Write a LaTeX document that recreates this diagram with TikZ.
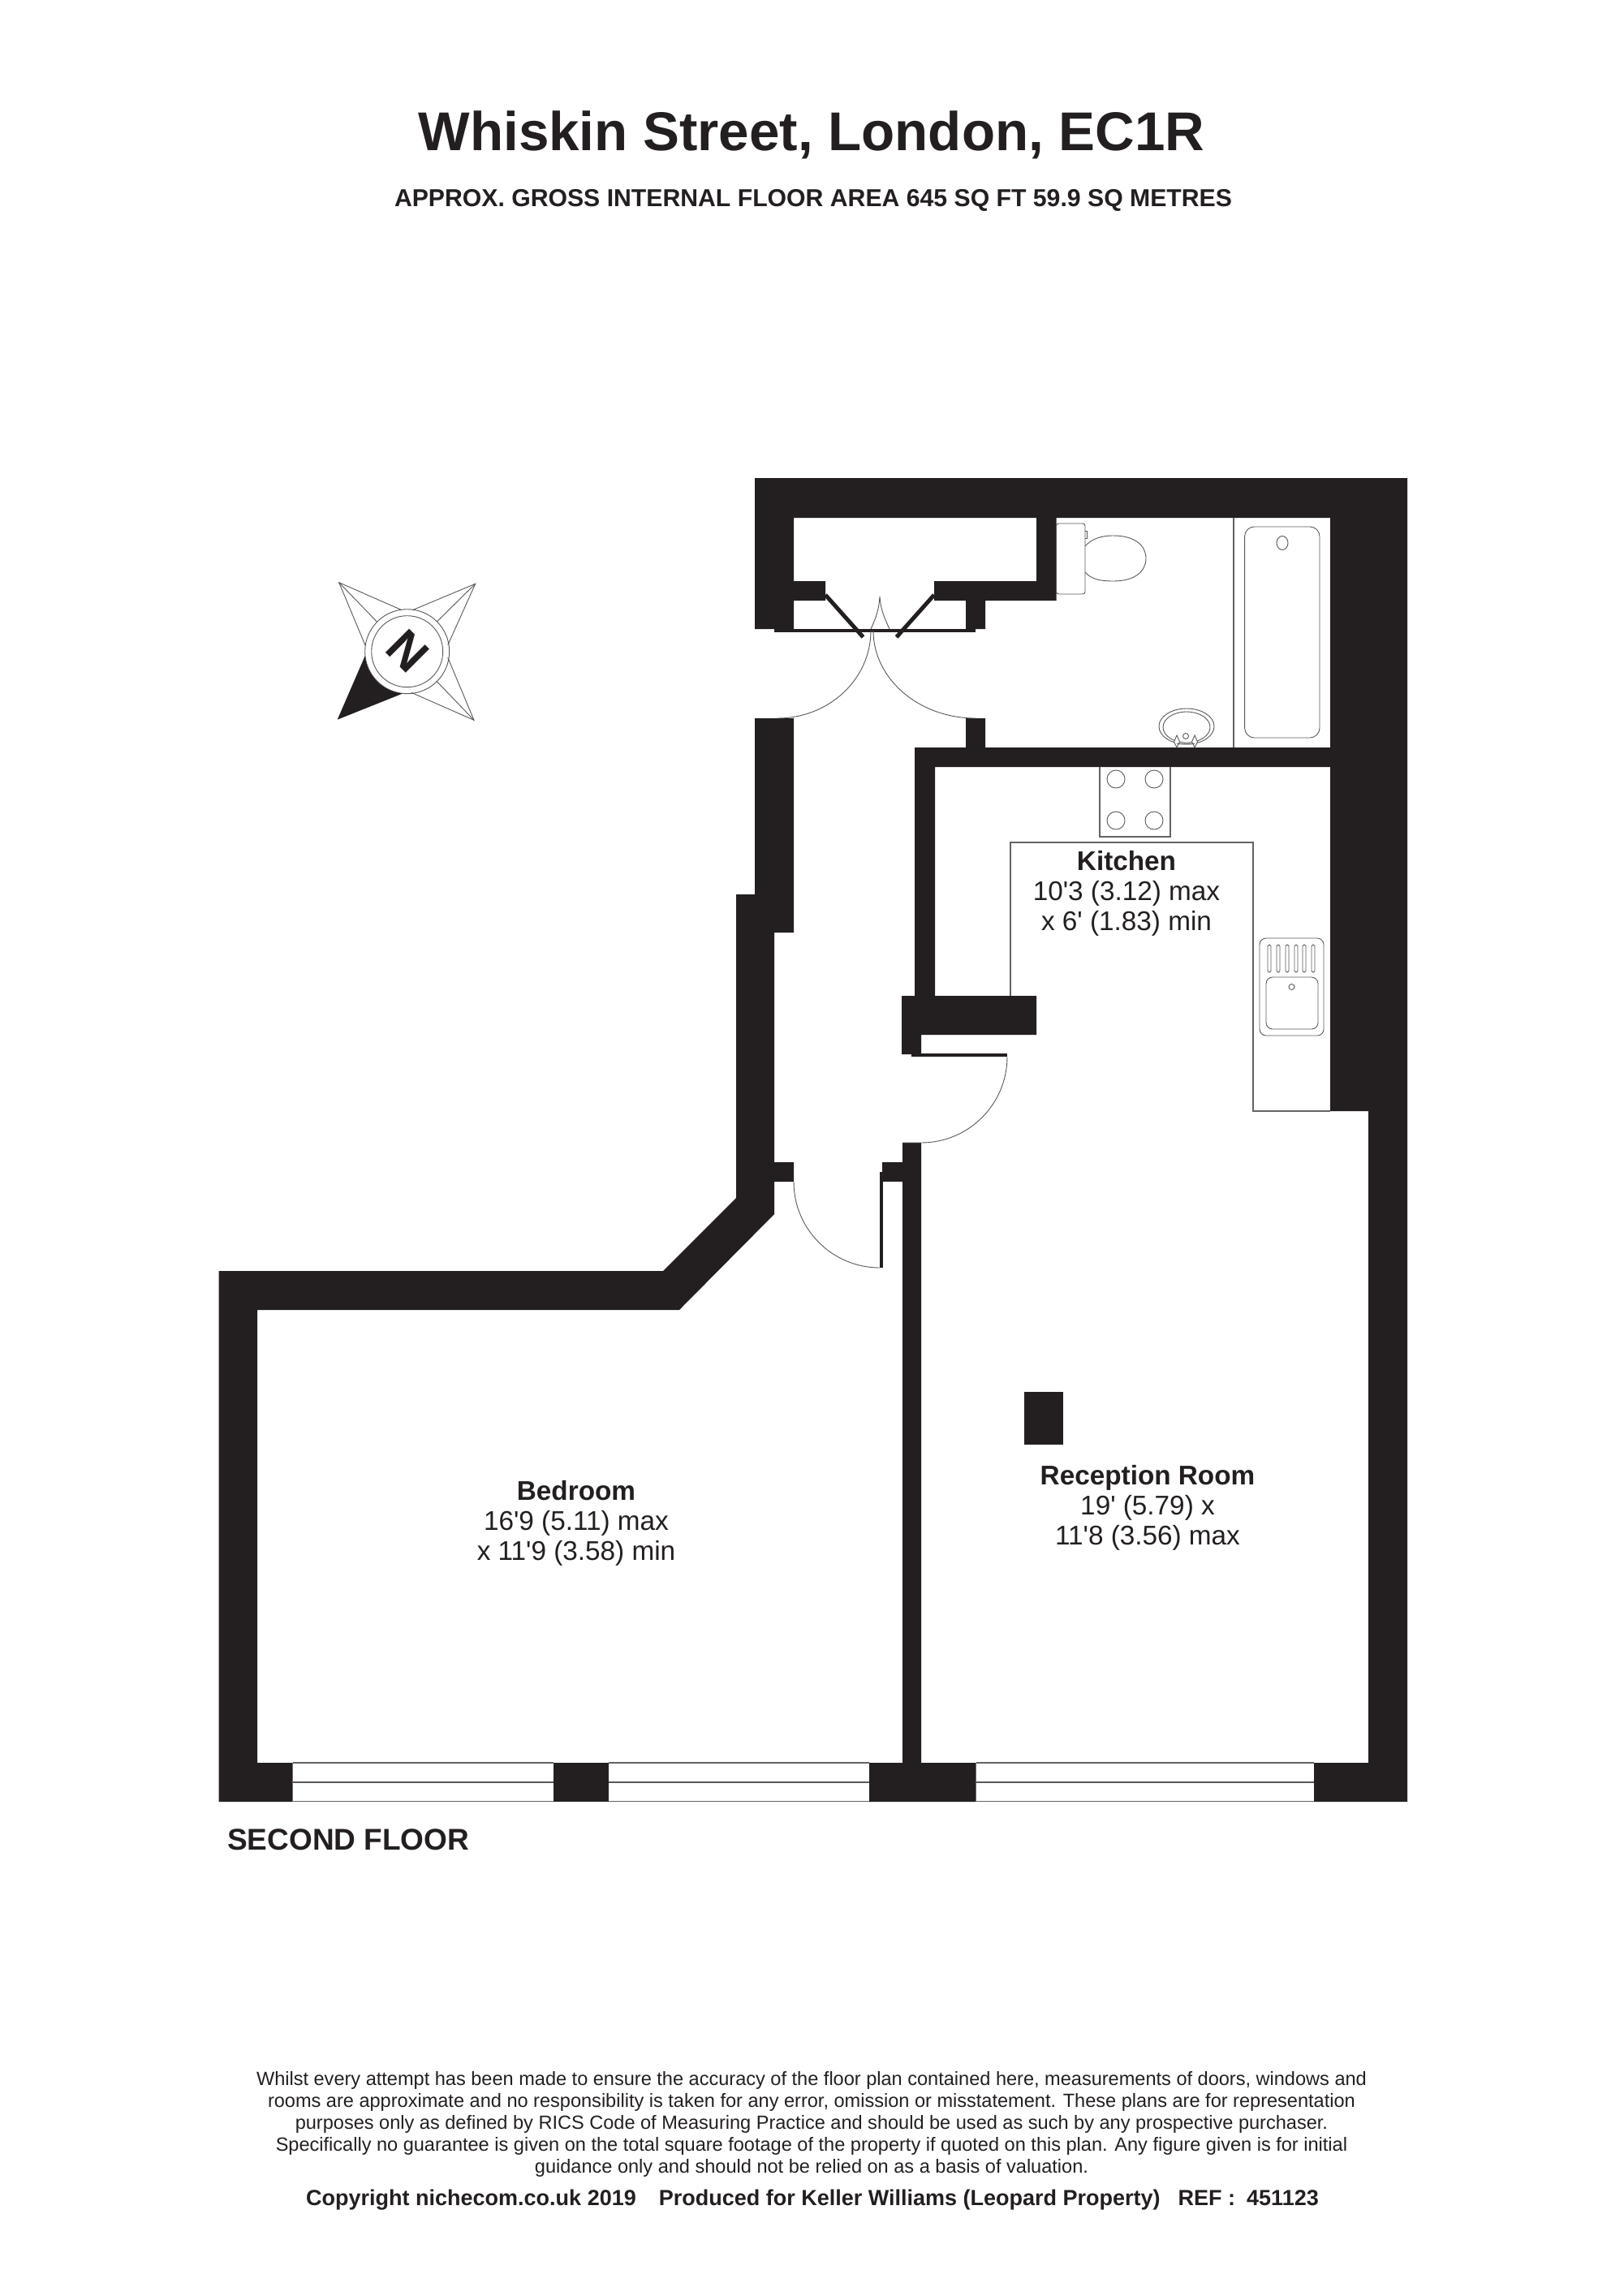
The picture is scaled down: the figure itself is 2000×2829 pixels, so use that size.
\documentclass[tikz,border=0pt]{standalone}
\usepackage{fontspec}
\newfontfamily\plansans{Liberation Sans}
\definecolor{wallink}{HTML}{231F20}
\begin{document}
\plansans
\begin{tikzpicture}[x=1pt,y=-1pt]
  \tikzset{wall/.style = {fill=wallink}}
  \tikzset{fitting/.style = {draw=wallink!75,line width=0.9pt}}
  \tikzset{thinline/.style = {draw=wallink!70,line width=1.1pt}}
  \tikzset{say/.style = {inner sep=0pt,text=wallink,align=center}}
  \useasboundingbox (0,0) rectangle (2000,2829);

  \node[say,font=\bfseries\fontsize{67.3}{67.3}\selectfont] (title) at (1000,166) {Whiskin Street, London, EC1R};
  \node[say,font=\bfseries\fontsize{30.2}{30.2}\selectfont] (area) at (1002,247) {APPROX. GROSS INTERNAL FLOOR AREA 645 SQ FT 59.9 SQ METRES};

  \fill[wall] (930,589) -- (1734,589) -- (1734,2220) -- (1619,2220) -- (1619,2172) -- (1686,2172) -- (1686,1369)
    -- (1639,1369) -- (1639,638) -- (1301.5,638) -- (1301.5,740) -- (1214,740) -- (1214,775) -- (1190,775) -- (1190,740)
    -- (1151,740) -- (1151,716) -- (1277,716) -- (1277,638) -- (978,638) -- (978,716) -- (1017,716) -- (1017,740)
    -- (978,740) -- (978,775) -- (930,775) -- cycle;
  \fill[wall] (1127,921) -- (1190,921) -- (1190,885) -- (1214,885) -- (1214,921) -- (1639,921) -- (1639,945) -- (1152,945)
    -- (1152,1227) -- (1277,1227) -- (1277,1275) -- (1135,1275) -- (1135,1299) -- (1111,1299) -- (1111,1227) -- (1127,1227) -- cycle;
  \fill[wall] (930,885) -- (978,885) -- (978,1149) -- (954,1149) -- (954,1432) -- (978,1432) -- (978,1456) -- (954,1456)
    -- (954,1496) -- (837,1614) -- (317,1614) -- (317,2172) -- (360.5,2172) -- (360.5,2220) -- (269.5,2220) -- (269.5,1566)
    -- (817,1566) -- (907,1476) -- (907,1102) -- (930,1102) -- cycle;
  \fill[wall] (682,2172) rectangle (750,2220);
  \fill[wall] (1071,2172) -- (1112,2172) -- (1112,1408) -- (1135,1408) -- (1135,2172) -- (1202.6,2172) -- (1202.6,2220) -- (1071,2220) -- cycle;
  \fill[wall] (1087,1432) rectangle (1112,1456);
  \fill[wall] (1262,1715) rectangle (1310,1780);

  %doors
  \fill[wall] (954,775) rectangle (1202,779);
  \fill[wall] (1123,1298) rectangle (1241,1302);
  \fill[wall] (1084,1444) rectangle (1088,1562);
  \draw[wallink,line width=5pt] (1017,733) -- (1063.5,785);
  \draw[wallink,line width=5pt] (1151,733) -- (1104.6,785);
  \draw[fitting] (1073,777) arc[start angle=0,end angle=-90,x radius=115pt,y radius=108pt];
  \draw[fitting] (1076,777) arc[start angle=180,end angle=270,x radius=126pt,y radius=108pt];
  \draw[fitting] (1073,775) .. controls (1080,760) and (1083,750) .. (1084,735) .. controls (1085,750) and (1089,760) .. (1096,775);
  \draw[fitting] (1241,1302) arc[start angle=0,end angle=-90,radius=106pt] -- (1112,1408);
  \draw[fitting] (978,1456) arc[start angle=180,end angle=270,radius=106pt];

  %bathroom
  \draw[thinline] (1520,638) -- (1520,921);
  \draw[fitting,rounded corners=12pt] (1533.6,649) rectangle (1626,909);
  \draw[fitting] (1580,669) ellipse (7pt and 8.5pt);
  \draw[fitting,rounded corners=3pt] (1301.5,645) rectangle (1337,732);
  \draw[fitting] (1337,654) -- (1339,654) -- (1339,663) -- (1337,663);
  \draw[fitting] (1337,673) .. controls (1345,664) and (1356,660) .. (1372,660) .. controls (1398,660) and (1412,672) .. (1412,688)
    .. controls (1412,704) and (1398,716) .. (1372,716) .. controls (1356,716) and (1345,714) .. (1337,705);
  \draw[fitting] (1462,895) ellipse (34pt and 22pt);
  \draw[fitting] (1462,896) ellipse (29pt and 19pt);
  \draw[fitting] (1461,907) circle (3.5pt);
  \draw[fitting,fill=white] (1450,906) -- (1453.5,914) -- (1450,921) -- (1446.5,914) -- cycle;
  \draw[fitting,fill=white] (1472,906) -- (1475.5,914) -- (1472,921) -- (1468.5,914) -- cycle;
  \draw[fitting] (1450,916) -- (1472,916);

  %kitchen
  \draw[thinline] (1355,945) -- (1355,1031) -- (1442,1031) -- (1442,945);
  \draw[fitting] (1375,960) circle (11pt);
  \draw[fitting] (1422,960) circle (11pt);
  \draw[fitting] (1375,1011) circle (11pt);
  \draw[fitting] (1422,1011) circle (11pt);
  \draw[thinline] (1245,1227) -- (1245,1038) -- (1544,1038) -- (1544,1369) -- (1639,1369);
  \draw[fitting,rounded corners=8pt] (1552,1156) rectangle (1631,1276);
  \draw[fitting,rounded corners=8pt] (1560,1204) rectangle (1624,1268);
  \draw[fitting] (1591.5,1216) circle (3.5pt);
  \draw[fitting,rounded corners=1.7pt] (1562,1164) rectangle (1566,1198);
  \draw[fitting,rounded corners=1.7pt] (1573,1164) rectangle (1577,1198);
  \draw[fitting,rounded corners=1.7pt] (1584,1164) rectangle (1588,1198);
  \draw[fitting,rounded corners=1.7pt] (1595,1164) rectangle (1599,1198);
  \draw[fitting,rounded corners=1.7pt] (1605,1164) rectangle (1609,1198);
  \draw[fitting,rounded corners=1.7pt] (1616,1164) rectangle (1620,1198);

  %windows
  \draw[thinline] (360.5,2172) -- (682,2172);
  \draw[thinline] (750,2172) -- (1071,2172);
  \draw[thinline] (1202.6,2172) -- (1619,2172);
  \draw[fitting,line width=2pt] (360.5,2196) -- (682,2196);
  \draw[fitting,line width=2pt] (750,2196) -- (1071,2196);
  \draw[fitting,line width=2pt] (1202.6,2196) -- (1619,2196);
  \draw[thinline] (360.5,2219.5) -- (682,2219.5);
  \draw[thinline] (750,2219.5) -- (1071,2219.5);
  \draw[thinline] (1202.6,2219.5) -- (1619,2219.5);

  %compass
  \draw[fitting] (501.7,802.7) circle (52pt);
  \draw[fitting] (501.7,802.7) circle (44pt);
  \fill[wall] (415.7,886.7) -- (449.7,808.3) arc[start angle=186,end angle=264,radius=52pt] -- cycle;
  \draw[fitting] (450,795) -- (417.7,717.7) -- (495,751.7);
  \draw[fitting] (417.7,717.7) -- (464.3,766);
  \draw[fitting] (508.3,751.7) -- (585.7,719.3) -- (551.7,795);
  \draw[fitting] (585.7,719.3) -- (538.3,766);
  \draw[fitting] (551.7,810) -- (584,887.3) -- (506.7,853.3);
  \draw[fitting] (584,887.3) -- (537.7,839);
  \node[say,rotate=-45,font=\bfseries\fontsize{60}{60}\selectfont] (north) at (502,802) {N};

  %rooms
  \node[say,font=\fontsize{33.3}{37}\selectfont] (kitchen) at (1388,1101) {\textbf{Kitchen}\\10'3 (3.12) max\\x 6' (1.83) min};
  \node[say,font=\fontsize{33.3}{37}\selectfont] (bedroom) at (710,1877) {\textbf{Bedroom}\\16'9 (5.11) max\\x 11'9 (3.58) min};
  \node[say,font=\fontsize{33.3}{37}\selectfont] (reception) at (1414,1858) {\textbf{Reception Room}\\19' (5.79) x\\11'8 (3.56) max};
  \node[say,anchor=west,font=\bfseries\fontsize{37}{37}\selectfont] (floor) at (280,2267) {SECOND FLOOR};

  \node[say,font=\fontsize{23.55}{27}\selectfont] (small) at (1000,2617) {Whilst every attempt has been made to ensure the accuracy of the floor plan contained here, measurements of doors, windows and\\
    rooms are approximate and no responsibility is taken for any error, omission or misstatement. These plans are for representation\\
    purposes only as defined by RICS Code of Measuring Practice and should be used as such by any prospective purchaser.\\
    Specifically no guarantee is given on the total square footage of the property if quoted on this plan. Any figure given is for initial\\
    guidance only and should not be relied on as a basis of valuation.};
  \node[say,font=\bfseries\fontsize{27}{27}\selectfont] (credit) at (1001,2711) {Copyright nichecom.co.uk 2019\hspace{28pt}Produced for Keller Williams (Leopard Property)\hspace{22pt}REF :\hspace{14pt}451123};
\end{tikzpicture}
\end{document}
